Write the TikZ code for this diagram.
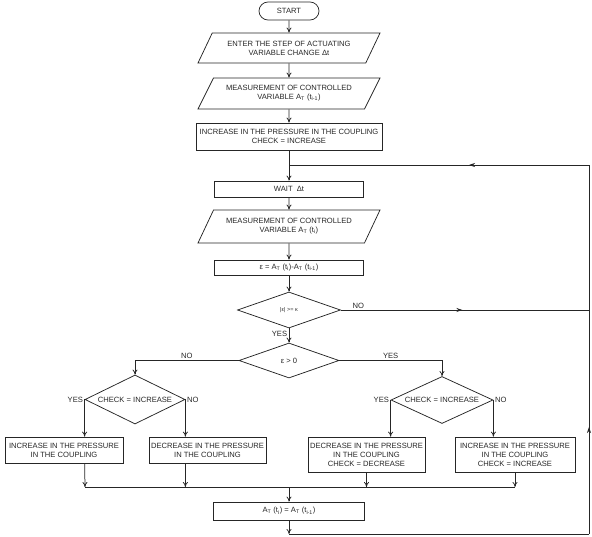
\documentclass[tikz,border=0pt]{standalone}
\usepackage{fontspec}
\setmainfont{Liberation Sans}
\usetikzlibrary{shapes.geometric,shapes.misc,arrows.meta,decorations.markings}

\begin{document}
\begin{tikzpicture}[x=1pt,y=-1pt,
        every node/.style={font=\fontsize{7.6}{9}\selectfont, text=black!85},
        line/.style={draw=black!85, line width=0.75pt},
        arr/.style={line, -{To[length=5pt,width=5pt]}},
        midarr/.style={line, postaction={decorate},
            decoration={markings, mark=at position #1 with {\arrow{Stealth[length=6pt,width=4pt]}}}},
        term/.style={line, rounded rectangle, minimum width=60pt, minimum height=18pt, inner sep=0pt},
        io/.style={line, trapezium, trapezium stretches body=true, trapezium left angle=49,
            trapezium right angle=131, minimum width=182pt, align=center, inner sep=1pt},
        proc/.style={line, rectangle, align=center, inner sep=1pt},
        dec/.style={line, diamond, align=center, inner sep=0pt},
        lbl/.style={inner sep=1.5pt}]
        \useasboundingbox (0,0) rectangle (592,537);
        % main column
        \node[term](start) at (289,11) {START};
        \node[io, minimum height=30pt](enter) at (289,48) {ENTER THE STEP OF ACTUATING\\VARIABLE CHANGE Δt};
        \node[io, minimum height=31pt](meas1) at (289,93.5) {MEASUREMENT OF CONTROLLED\\VARIABLE A\textsubscript{T} (t\textsubscript{i-1})};
        \node[proc, minimum width=186pt, minimum height=27pt](incr) at (289,136.5) {INCREASE IN THE PRESSURE IN THE COUPLING\\CHECK = INCREASE};
        \node[proc, minimum width=149pt, minimum height=16pt](wait) at (289,189) {WAIT \ Δt};
        \node[io, minimum height=33pt](meas2) at (289,226.5) {MEASUREMENT OF CONTROLLED\\VARIABLE A\textsubscript{T} (t\textsubscript{i})};
        \node[proc, minimum width=149pt, minimum height=15pt](eps) at (289,267.5) {ε = A\textsubscript{T} (t\textsubscript{i})-A\textsubscript{T} (t\textsubscript{i-1})};
        \node[dec, aspect=2.9, minimum width=103pt, minimum height=36pt, font=\fontsize{5.5}{6}\selectfont](cond1) at (289,310) {|ε| >= κ};
        \node[dec, aspect=2.9, minimum width=100pt, minimum height=35pt](cond2) at (289,360.5) {ε > 0};
        % branches
        \node[dec, aspect=2.1, minimum width=100pt, minimum height=49pt](chkL) at (135,399.5) {CHECK = INCREASE};
        \node[dec, aspect=2.2, minimum width=102pt, minimum height=47pt](chkR) at (442,400) {CHECK = INCREASE};
        \node[proc, minimum width=118pt, minimum height=26pt](incL) at (64,450) {INCREASE IN THE PRESSURE\\IN THE COUPLING};
        \node[proc, minimum width=117pt, minimum height=26pt](decL) at (207.5,450) {DECREASE IN THE PRESSURE\\IN THE COUPLING};
        \node[proc, minimum width=117pt, minimum height=35pt](decR) at (366.5,454.5) {DECREASE IN THE PRESSURE\\IN THE COUPLING\\CHECK = DECREASE};
        \node[proc, minimum width=120pt, minimum height=35pt](incR) at (515,454.5) {INCREASE IN THE PRESSURE\\IN THE COUPLING\\CHECK = INCREASE};
        \node[proc, minimum width=151pt, minimum height=18pt](upd) at (289,511) {A\textsubscript{T} (t\textsubscript{i}) = A\textsubscript{T} (t\textsubscript{i-1})};
        % loop corners
        \coordinate(loopL) at (289,165);
        \coordinate(loopR) at (589,165);
        \coordinate(noR) at (589,310);
        \coordinate(botL) at (289,534);
        \coordinate(botR) at (589,534);
        \coordinate(mL) at (85,487);
        \coordinate(mR) at (515,487);
        \coordinate(mC) at (289,487);
        \draw[arr](start)--(enter);
        \draw[arr](enter)--(meas1);
        \draw[arr](meas1)--(incr);
        \draw[line](incr)--(loopL);
        \draw[arr](loopL)--(wait);
        \draw[arr](wait)--(meas2);
        \draw[arr](meas2)--(eps);
        \draw[arr](eps)--(cond1);
        \draw[arr](cond1)--node[lbl, left, pos=0.4]{YES}(cond2);
        \draw[midarr=0.49](cond1.east)--node[lbl, above, pos=0.07]{NO}(noR);
        \draw[arr](cond2.west)--node[lbl, above, pos=0.5]{NO}(cond2.west -| chkL.north)--(chkL.north);
        \draw[arr](cond2.east)--node[lbl, above, pos=0.5]{YES}(cond2.east -| chkR.north)--(chkR.north);
        \draw[arr](chkL.west)--(chkL.west |- incL.north);
        \draw[arr](chkL.east)--(chkL.east |- decL.north);
        \draw[arr](chkR.west)--(chkR.west |- decR.north);
        \draw[arr](chkR.east)--(chkR.east |- incR.north);
        \node[lbl, left] at (chkL.west) {YES};
        \node[lbl, right] at (chkL.east) {NO};
        \node[lbl, left] at (chkR.west) {YES};
        \node[lbl, right] at (chkR.east) {NO};
        \draw[arr](chkL.west |- incL.south)--(mL);
        \draw[arr](chkL.east |- decL.south)--(chkL.east |- mL);
        \draw[arr](decR)--(decR |- mL);
        \draw[arr](incR)--(mR);
        \draw[line](mL)--(mR);
        \draw[arr](mC)--(upd);
        \draw[arr](upd)--(botL);
        \draw[line](botL)--(botR);
        \draw[midarr=0.29](botR)--(loopR);
        \draw[midarr=0.40](loopR)--(loopL);
        \end{tikzpicture}
\end{document}
